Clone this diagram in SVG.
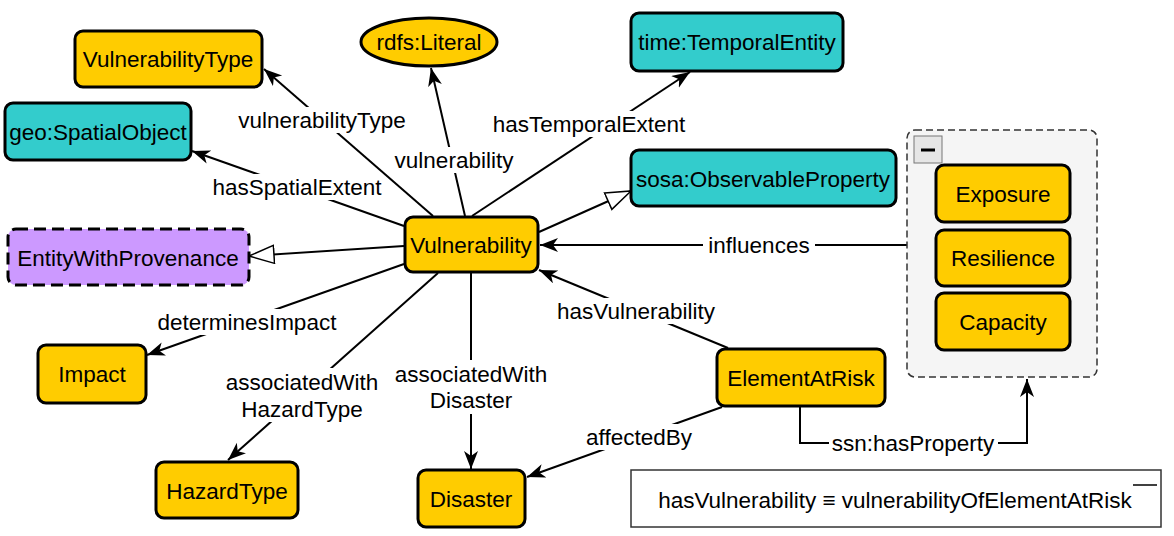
<svg xmlns="http://www.w3.org/2000/svg" width="1174" height="536" viewBox="0 0 1174 536">
<style>
.t{font-family:"Liberation Sans",Arial,sans-serif;font-size:22.5px;fill:#000;text-anchor:middle;dominant-baseline:central}
.n{stroke:#000;stroke-width:3}
.y{fill:#FFCC00}
.c{fill:#33CCCC}
.p{fill:#CC99FF}
.e{fill:none;stroke:#000;stroke-width:2}
.bg{fill:#fff}
</style>
<defs>
<marker id="arr" markerUnits="userSpaceOnUse" markerWidth="20" markerHeight="16" refX="18" refY="7" orient="auto">
<path d="M0,0 L18,7 L0,14 L5,7 Z" fill="#000"/>
</marker>
<marker id="tri" markerUnits="userSpaceOnUse" markerWidth="28" markerHeight="22" refX="26" refY="10" orient="auto">
<path d="M1,1 L26,10 L1,19 Z" fill="#fff" stroke="#000" stroke-width="1.5"/>
</marker>
</defs>
<rect width="1174" height="536" fill="#fff"/>
<g id="edges">
<path class="e" d="M433,216 L264,69" marker-end="url(#arr)"/>
<path class="e" d="M465,216 L431,68" marker-end="url(#arr)"/>
<path class="e" d="M472,216 L690,72" marker-end="url(#arr)"/>
<path class="e" d="M404,226 L192,151" marker-end="url(#arr)"/>
<path class="e" d="M539,232 L631,191" marker-end="url(#tri)"/>
<path class="e" d="M404,246 L249,256" marker-end="url(#tri)"/>
<path class="e" d="M404,264 L147,355" marker-end="url(#arr)"/>
<path class="e" d="M438,273 L228,460" marker-end="url(#arr)"/>
<path class="e" d="M471,273 L471,469" marker-end="url(#arr)"/>
<path class="e" d="M907,245 L540,245" marker-end="url(#arr)"/>
<path class="e" d="M728,348 L539,270" marker-end="url(#arr)"/>
<path class="e" d="M722,407 L527,477" marker-end="url(#arr)"/>
<path class="e" d="M800,407 L800,443 L1027,443 L1027,379" marker-end="url(#arr)"/>
</g>
<g id="edge-labels">
<rect class="bg" x="236" y="107" width="172" height="26"/><text class="t" x="322" y="120">vulnerabilityType</text>
<rect class="bg" x="392" y="147" width="124" height="26"/><text class="t" x="454" y="160">vulnerability</text>
<rect class="bg" x="489" y="111" width="200" height="26"/><text class="t" x="589" y="124">hasTemporalExtent</text>
<rect class="bg" x="211" y="174" width="172" height="26"/><text class="t" x="297" y="187">hasSpatialExtent</text>
<rect class="bg" x="155" y="309" width="184" height="26"/><text class="t" x="247" y="322">determinesImpact</text>
<rect class="bg" x="223" y="368" width="158" height="54"/><text class="t" x="302" y="382">associatedWith</text><text class="t" x="302" y="409">HazardType</text>
<rect class="bg" x="392" y="360" width="158" height="54"/><text class="t" x="471" y="374">associatedWith</text><text class="t" x="471" y="400">Disaster</text>
<rect class="bg" x="703" y="232" width="112" height="26"/><text class="t" x="759" y="245">influences</text>
<rect class="bg" x="553" y="298" width="166" height="26"/><text class="t" x="636" y="311">hasVulnerability</text>
<rect class="bg" x="582" y="424" width="114" height="26"/><text class="t" x="639" y="437">affectedBy</text>
<rect class="bg" x="829" y="430" width="169" height="26"/><text class="t" x="913" y="443">ssn:hasProperty</text>
</g>
<g id="VulnerabilityType"><rect class="n y" x="75" y="31" width="187" height="56" rx="8"/><text class="t" x="168" y="59">VulnerabilityType</text></g>
<g id="rdfsLiteral"><ellipse class="n y" cx="429" cy="42" rx="68" ry="24"/><text class="t" x="429" y="42">rdfs:Literal</text></g>
<g id="TemporalEntity"><rect class="n c" x="631" y="13" width="212" height="58" rx="8"/><text class="t" x="737" y="42">time:TemporalEntity</text></g>
<g id="SpatialObject"><rect class="n c" x="5" y="103" width="186" height="57" rx="8"/><text class="t" x="98" y="132">geo:SpatialObject</text></g>
<g id="ObservableProperty"><rect class="n c" x="631" y="150" width="265" height="56" rx="8"/><text class="t" x="763" y="179">sosa:ObservableProperty</text></g>
<g id="EntityWithProvenance"><rect class="n p" x="8" y="229" width="241" height="56" rx="8" stroke-dasharray="12,6"/><text class="t" x="128" y="258">EntityWithProvenance</text></g>
<g id="Vulnerability"><rect class="n y" x="405" y="217" width="133" height="55" rx="8"/><text class="t" x="471" y="245">Vulnerability</text></g>
<g id="Impact"><rect class="n y" x="38" y="345" width="108" height="58" rx="8"/><text class="t" x="92" y="374">Impact</text></g>
<g id="HazardType"><rect class="n y" x="156" y="462" width="142" height="56" rx="8"/><text class="t" x="227" y="491">HazardType</text></g>
<g id="Disaster"><rect class="n y" x="418" y="470" width="107" height="57" rx="8"/><text class="t" x="471" y="499">Disaster</text></g>
<g id="ElementAtRisk"><rect class="n y" x="717" y="349" width="168" height="57" rx="8"/><text class="t" x="801" y="378">ElementAtRisk</text></g>
<g id="group">
<rect x="907" y="130" width="190" height="247" rx="8" fill="#f5f5f5" stroke="#333" stroke-width="1.5" stroke-dasharray="7,4"/>
<rect x="914" y="136" width="28" height="27" fill="#e6e6e6" stroke="#777" stroke-width="1"/>
<line x1="921" y1="150" x2="935" y2="150" stroke="#000" stroke-width="3"/>
</g>
<g id="Exposure"><rect class="n y" x="936" y="165" width="134" height="57" rx="8"/><text class="t" x="1003" y="194">Exposure</text></g>
<g id="Resilience"><rect class="n y" x="936" y="230" width="134" height="56" rx="8"/><text class="t" x="1003" y="258">Resilience</text></g>
<g id="Capacity"><rect class="n y" x="936" y="293" width="134" height="57" rx="8"/><text class="t" x="1003" y="322">Capacity</text></g>
<g id="equivalence">
<rect x="631" y="470" width="530" height="57" fill="#fff" stroke="#333" stroke-width="1.5"/>
<line x1="1133" y1="485" x2="1157" y2="485" stroke="#000" stroke-width="1.5"/>
<text class="t" x="895" y="500">hasVulnerability ≡ vulnerabilityOfElementAtRisk</text>
</g>
</svg>
